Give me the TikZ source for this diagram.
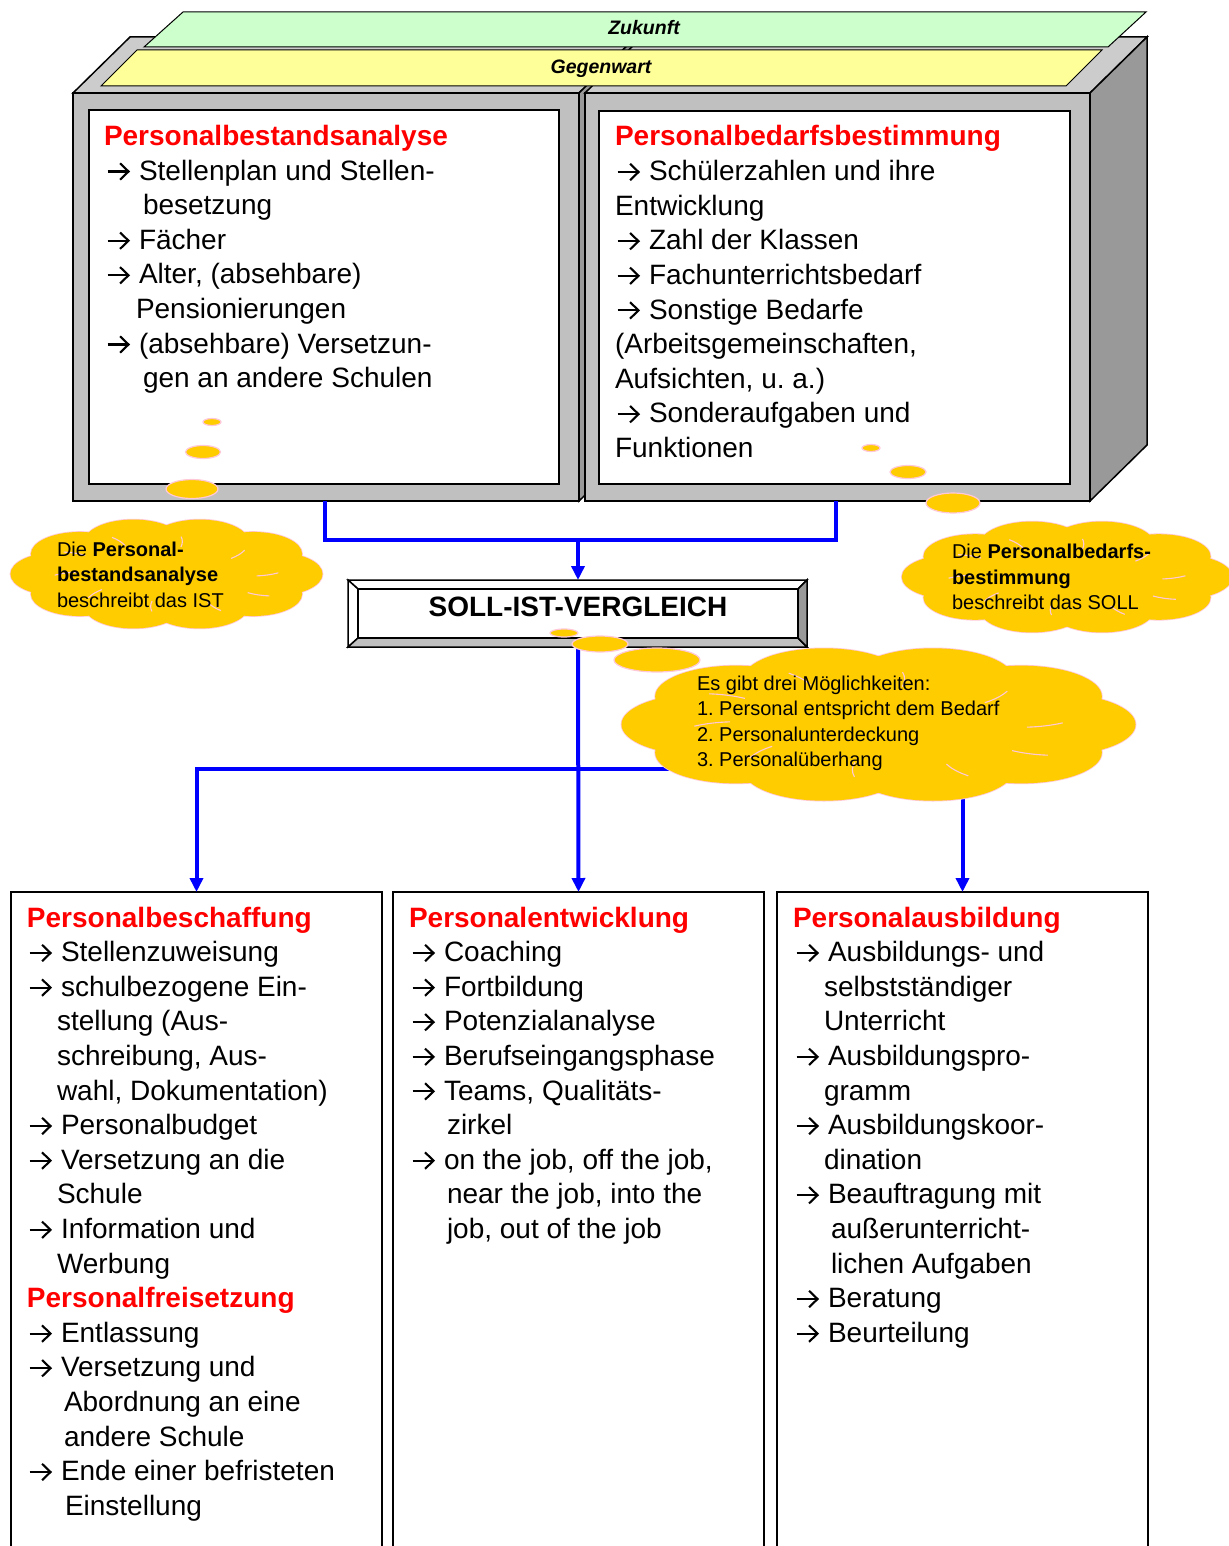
\documentclass[tikz,border=0pt]{standalone}
\usepackage{fontspec}
\setmainfont{Liberation Sans}
\usetikzlibrary{arrows.meta}
\definecolor{frameg}{HTML}{C0C0C0}
\definecolor{topg}{HTML}{CCCCCC}
\definecolor{sideg}{HTML}{999999}
\definecolor{zgreen}{HTML}{CCFFCC}
\definecolor{gyellow}{HTML}{FFFF99}
\definecolor{cloudy}{HTML}{FFCC00}
\definecolor{cloudp}{HTML}{FFC8D8}
\definecolor{hred}{HTML}{FF0000}
\definecolor{cblue}{HTML}{0000FF}
\newcommand\ar{\makebox[34pt][l]{\hspace{1.5pt}\tikz[x=1pt,y=1pt,baseline=0pt]{%
  \draw[line width=2.1pt, line cap=butt] (0,8.6) -- (20.5,8.6);
  \draw[line width=2.1pt, line join=miter, line cap=butt] (12.5,0.4) -- (21,8.6) -- (12.5,16.8);}}}
\newcommand\mycloud[5]{%
  \foreach \t in {0,36,...,324}{%
    \draw[cedge] ({#2+0.7*#4*cos(\t)},{#3+0.62*#5*sin(\t)}) ellipse[x radius={0.32*#4*1pt}, y radius={0.4*#5*1pt}];
  }%
  \foreach \t in {0,36,...,324}{%
    \fill[cloudy] ({#2+0.7*#4*cos(\t)},{#3+0.62*#5*sin(\t)}) ellipse[x radius={0.32*#4*1pt}, y radius={0.4*#5*1pt}];
  }%
  \fill[cloudy] (#2,#3) ellipse[x radius={0.8*#4*1pt}, y radius={0.7*#5*1pt}];
  \foreach \t in {0,36,...,324}{%
    \draw[draw=cloudp, line width=1.1pt] ({#2+0.7*#4*cos(\t)+0.32*#4*cos(\t+95)},{#3+0.62*#5*sin(\t)+0.4*#5*sin(\t+95)})
      arc[start angle={\t+95}, end angle={\t+122}, x radius={0.32*#4}, y radius={0.4*#5}];
  }%
  \coordinate (#1) at (#2,#3);
}
\begin{document}
\frenchspacing
\begin{tikzpicture}[x=1pt,y=-1pt,
  every node/.style={inner sep=0pt, outer sep=0pt},
  body/.style={anchor=base west, font=\fontsize{28}{34}\selectfont},
  head/.style={anchor=base west, font=\fontsize{28}{34}\selectfont\bfseries, text=hred},
  ctext/.style={anchor=base west, font=\fontsize{20}{25}\selectfont},
  edge/.style={draw=black, line width=1.5pt},
  conn/.style={draw=cblue, line width=4pt},
  tip/.style={-{Triangle[width=13pt,length=14pt]}},
  cedge/.style={draw=cloudp, line width=1.6pt},
  bubble/.style={fill=cloudy, draw=cloudp, line width=1.2pt},
  boxst/.style={draw=black, line width=1.5pt, fill=white, anchor=north west, minimum width=371pt, minimum height=700pt},
  band/.style={draw=black, line width=1pt}
]
\useasboundingbox (0,0) rectangle (1228,1546);
\fill[white] (0,0) rectangle (1228,1546);

% ---------- 3D frames ----------
\filldraw[fill=topg, edge] (73,93) -- (130,37) -- (636,37) -- (579,93) -- cycle;
\filldraw[fill=sideg, edge] (579,93) -- (636,37) -- (636,445) -- (579,501) -- cycle;
\filldraw[fill=frameg, edge] (73,93) rectangle (579,501);
\filldraw[fill=topg, edge] (585,93) -- (642,37) -- (1147,37) -- (1090,93) -- cycle;
\filldraw[fill=sideg, edge] (1090,93) -- (1147,37) -- (1147,445) -- (1090,501) -- cycle;
\filldraw[fill=frameg, edge] (585,93) rectangle (1090,501);
\filldraw[fill=white, edge] (89,110) rectangle (559,484);
\filldraw[fill=white, edge] (599,111) rectangle (1070,484);

% bands
\filldraw[fill=zgreen, band] (144,47) -- (183,12) -- (1146,12) -- (1108,47) -- cycle;
\node[anchor=base, font=\fontsize{19.5}{22}\selectfont\bfseries\itshape] (zuk) at (644,35) {Zukunft};
\filldraw[fill=gyellow, band] (101,86) -- (137,50) -- (1102,50) -- (1066,86) -- cycle;
\node[anchor=base, font=\fontsize{19.5}{22}\selectfont\bfseries\itshape] (geg) at (601,74) {Gegenwart};

% ---------- top left text ----------
\node[head] (h1) at (104,145.5) {Personalbestandsanalyse};
\node[body] (a1) at (105,180.1) {\ar Stellenplan und Stellen-};
\node[body] (a2) at (143,214.7) {besetzung};
\node[body] (a3) at (105,249.3) {\ar Fächer};
\node[body] (a4) at (105,283.9) {\ar Alter, (absehbare)};
\node[body] (a5) at (136,318.5) {Pensionierungen};
\node[body] (a6) at (105,353.1) {\ar (absehbare) Versetzun-};
\node[body] (a7) at (143,387.7) {gen an andere Schulen};

% ---------- top right text ----------
\node[head] (h2) at (615,146) {Personalbedarfsbestimmung};
\node[body] (b1) at (615,180.6) {\ar Schülerzahlen und ihre};
\node[body] (b2) at (615,215.2) {Entwicklung};
\node[body] (b3) at (615,249.8) {\ar Zahl der Klassen};
\node[body] (b4) at (615,284.4) {\ar Fachunterrichtsbedarf};
\node[body] (b5) at (615,319.0) {\ar Sonstige Bedarfe};
\node[body] (b6) at (615,353.6) {(Arbeitsgemeinschaften,};
\node[body] (b7) at (615,388.2) {Aufsichten, u. a.)};
\node[body] (b8) at (615,422.8) {\ar Sonderaufgaben und};
\node[body] (b9) at (615,457.4) {Funktionen};

% ---------- bottom boxes ----------
\node[boxst] (bl) at (11,892) {};
\node[boxst] (bm) at (393,892) {};
\node[boxst] (br) at (777,892) {};

% ---------- connectors ----------
\coordinate (lfoot) at (325,501);
\coordinate (rfoot) at (836,501);
\coordinate (join) at (578,540);
\coordinate (sollN) at (578,580);
\coordinate (sollS) at (578,647);
\coordinate (split) at (578,769);
\draw[conn] (lfoot) |- (join) -| (rfoot);
\draw[conn, tip] (join) -- (sollN);
\draw[conn, tip] (sollS) -- (bm.north);
\draw[conn, tip] (split) -| (bl.north);
\draw[conn, tip] (split) -| (br.north);

% ---------- SOLL-IST box ----------
\filldraw[fill=white, edge] (348,580) -- (807,580) -- (798,589) -- (358,589) -- cycle;
\filldraw[fill=white, edge] (348,580) -- (358,589) -- (358,638) -- (348,647) -- cycle;
\filldraw[fill=frameg, edge] (348,647) -- (358,638) -- (798,638) -- (807,647) -- cycle;
\filldraw[fill=sideg, edge] (807,580) -- (807,647) -- (798,638) -- (798,589) -- cycle;
\filldraw[fill=white, edge] (358,589) rectangle (798,638);
\node[anchor=base, font=\fontsize{28}{34}\selectfont\bfseries] (soll) at (578,616) {SOLL-IST-VERGLEICH};

% ---------- thought bubbles ----------
\filldraw[bubble] (212,422) ellipse[x radius=9pt, y radius=3.5pt];
\filldraw[bubble] (203,452) ellipse[x radius=17.5pt, y radius=6.5pt];
\filldraw[bubble] (192,489) ellipse[x radius=26pt, y radius=9.5pt];
\filldraw[bubble] (871,448) ellipse[x radius=9pt, y radius=3.5pt];
\filldraw[bubble] (908,472) ellipse[x radius=18pt, y radius=6.5pt];
\filldraw[bubble] (953,503) ellipse[x radius=27pt, y radius=10pt];
\filldraw[bubble] (564,633) ellipse[x radius=14pt, y radius=4pt];
\filldraw[bubble] (600,644) ellipse[x radius=28pt, y radius=8pt];
\filldraw[bubble] (657,660) ellipse[x radius=43pt, y radius=12pt];

% ---------- clouds ----------
\mycloud{cl}{166.5}{574}{153}{55}
\mycloud{cr}{1067}{577}{162}{56}
\mycloud{cb}{878.5}{724.5}{252}{77}

\node[ctext] (c1) at (57,556) {Die \textbf{Personal-}};
\node[ctext] (c2) at (57,581.5) {\textbf{bestandsanalyse}};
\node[ctext] (c3) at (57,607) {beschreibt das IST};
\node[ctext] (d1) at (952,558.5) {Die \textbf{Personalbedarfs-}};
\node[ctext] (d2) at (952,584) {\textbf{bestimmung}};
\node[ctext] (d3) at (952,609.5) {beschreibt das SOLL};
\node[ctext] (e1) at (697,690) {Es gibt drei Möglichkeiten:};
\node[ctext] (e2) at (697,715.5) {1. Personal entspricht dem Bedarf};
\node[ctext] (e3) at (697,741) {2. Personalunterdeckung};
\node[ctext] (e4) at (697,766.5) {3. Personalüberhang};

% ---------- bottom left text ----------
\node[head] (p0) at (27,927) {Personalbeschaffung};
\node[body] (p1) at (27,961.6) {\ar Stellenzuweisung};
\node[body] (p2) at (27,996.2) {\ar schulbezogene Ein-};
\node[body] (p3) at (57,1030.8) {stellung (Aus-};
\node[body] (p4) at (57,1065.4) {schreibung, Aus-};
\node[body] (p5) at (57,1100.0) {wahl, Dokumentation)};
\node[body] (p6) at (27,1134.6) {\ar Personalbudget};
\node[body] (p7) at (27,1169.2) {\ar Versetzung an die};
\node[body] (p8) at (57,1203.8) {Schule};
\node[body] (p9) at (27,1238.4) {\ar Information und};
\node[body] (p10) at (57,1273.0) {Werbung};
\node[head] (p11) at (27,1307.6) {Personalfreisetzung};
\node[body] (p12) at (27,1342.2) {\ar Entlassung};
\node[body] (p13) at (27,1376.8) {\ar Versetzung und};
\node[body] (p14) at (64,1411.4) {Abordnung an eine};
\node[body] (p15) at (64,1446.0) {andere Schule};
\node[body] (p16) at (27,1480.6) {\ar Ende einer befristeten};
\node[body] (p17) at (65,1515.2) {Einstellung};

% ---------- bottom middle text ----------
\node[head] (m0) at (409,927) {Personalentwicklung};
\node[body] (m1) at (410,961.6) {\ar Coaching};
\node[body] (m2) at (410,996.2) {\ar Fortbildung};
\node[body] (m3) at (410,1030.8) {\ar Potenzialanalyse};
\node[body] (m4) at (410,1065.4) {\ar Berufseingangsphase};
\node[body] (m5) at (410,1100.0) {\ar Teams, Qualitäts-};
\node[body] (m6) at (447,1134.6) {zirkel};
\node[body] (m7) at (410,1169.2) {\ar on the job, off the job,};
\node[body] (m8) at (447,1203.8) {near the job, into the};
\node[body] (m9) at (447,1238.4) {job, out of the job};

% ---------- bottom right text ----------
\node[head] (r0) at (793,927) {Personalausbildung};
\node[body] (r1) at (794,961.6) {\ar Ausbildungs- und};
\node[body] (r2) at (824,996.2) {selbstständiger};
\node[body] (r3) at (824,1030.8) {Unterricht};
\node[body] (r4) at (794,1065.4) {\ar Ausbildungspro-};
\node[body] (r5) at (824,1100.0) {gramm};
\node[body] (r6) at (794,1134.6) {\ar Ausbildungskoor-};
\node[body] (r7) at (824,1169.2) {dination};
\node[body] (r8) at (794,1203.8) {\ar Beauftragung mit};
\node[body] (r9) at (831,1238.4) {außerunterricht-};
\node[body] (r10) at (831,1273.0) {lichen Aufgaben};
\node[body] (r11) at (794,1307.6) {\ar Beratung};
\node[body] (r12) at (794,1342.2) {\ar Beurteilung};
\end{tikzpicture}
\end{document}
